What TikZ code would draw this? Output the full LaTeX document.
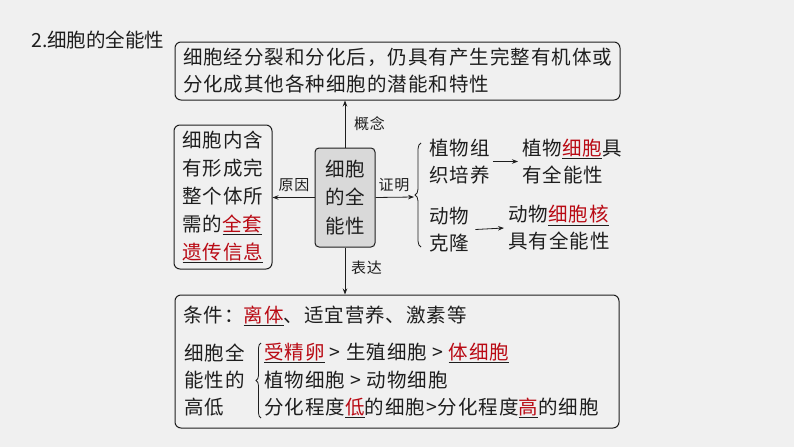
\documentclass[tikz,border=0pt]{standalone}
\usepackage{fontspec}
\setmainfont{Noto Sans CJK SC}[LetterSpace=5]
\newfontfamily\titlefont{Noto Sans CJK SC}
\usetikzlibrary{arrows.meta,decorations.pathreplacing}
\definecolor{bg}{RGB}{240,240,240}
\definecolor{redc}{RGB}{185,10,20}
\definecolor{coregray}{RGB}{217,217,217}
\definecolor{ink}{RGB}{30,30,30}
\newcommand\redul[1]{\underline{\textcolor{redc}{#1}}}
\begin{document}
\begin{tikzpicture}[x=1pt,y=-1pt,
  every node/.style={text=ink},
  box/.style={draw=ink, line width=1pt, rounded corners=6pt},
  arr/.style={-{Stealth[length=6pt,width=4.5pt]}, line width=0.8pt, draw=ink},
  lbl/.style={font=\fontsize{15}{18}\selectfont, inner sep=1pt},
  txt/.style={inner sep=0pt, align=left, anchor=west, font=\fontsize{19.5}{27}\selectfont},
  brc/.style={decorate, decoration={brace, amplitude=6pt}, line width=0.8pt, draw=ink}]
\fill[bg] (0,0) rectangle (794,447);
\useasboundingbox (0,0) rectangle (794,447);

\node[anchor=west, inner sep=0pt, font=\titlefont\fontsize{19.5}{22}\selectfont] (title) at (31,40) {2.细胞的全能性};

\node[box, minimum width=445pt, minimum height=58pt, align=left,
  font=\fontsize{19.5}{27}\selectfont] (def) at (397.5,71)
  {细胞经分裂和分化后，仍具有产生完整有机体或\\分化成其他各种细胞的潜能和特性};

\node[box, minimum width=98pt, minimum height=144pt, align=left,
  font=\fontsize{19.5}{28}\selectfont] (reason) at (223,197)
  {细胞内含\\有形成完\\整个体所\\需的\redul{全套}\\\redul{遗传信息}};

\node[box, rounded corners=4pt, fill=coregray, minimum width=60pt, minimum height=99pt,
  align=center, font=\fontsize{19.5}{28.5}\selectfont] (core) at (345,197.5)
  {细胞\\的全\\能性};

\node[box, minimum width=444pt, minimum height=133pt] (cond) at (397,361.5) {};

% connectors
\draw[arr] (core.north) -- (core.north |- def.south);
\node[lbl, anchor=west] (l1) at (353,124) {概念};
\draw[arr] (core.south) -- (core.south |- cond.north);
\node[lbl, anchor=west] (l2) at (350,268) {表达};
\draw[arr] (core.west) -- (core.west -| reason.east);
\node[lbl] (l3) at (294,185) {原因};
\coordinate (b1) at (414,197);
\draw[arr] (core.east) -- (b1);
\node[lbl] (l4) at (394,185) {证明};

% proof branch
\coordinate (b1top) at (421,143);
\coordinate (b1bot) at (421,247);
\draw[brc] (b1bot) -- (b1top);
\node[txt] (plant) at (429,161.5) {植物组\\织培养};
\node[txt] (plantres) at (522,161.5) {植物\redul{细胞}具\\有全能性};
\draw[arr] ([xshift=3pt]plant.east) -- ([xshift=-4pt]plantres.west);
\node[txt] (animal) at (429,229.5) {动物\\克隆};
\node[txt] (animalres) at (508,228) {动物\redul{细胞核}\\具有全能性};
\draw[arr] ([xshift=6pt]animal.east) -- ([xshift=-4pt]animalres.west);

% conditions box
\node[txt] (c1) at (183,316) {条件：\redul{离体}、适宜营养、激素等};
\node[txt] (c2) at (184,380.5) {细胞全\\能性的\\高低};
\coordinate (b2top) at (261,343);
\coordinate (b2bot) at (261,418);
\draw[brc, decoration={brace, amplitude=5pt}] (b2bot) -- (b2top);
\node[txt] (r1) at (264,353) {\redul{受精卵} > 生殖细胞 > \redul{体细胞}};
\node[txt] (r2) at (264,380) {植物细胞 > 动物细胞};
\node[txt] (r3) at (264,408) {分化程度\redul{低}的细胞>分化程度\redul{高}的细胞};
\end{tikzpicture}
\end{document}
